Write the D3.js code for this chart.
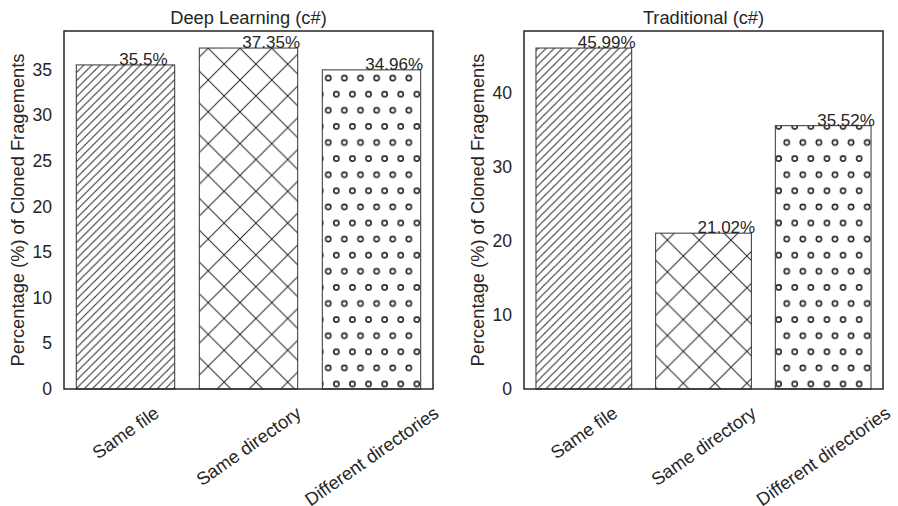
<!doctype html>
<html lang="en">
<head>
	<meta charset="UTF-8">
	<title>Clone locations (c#)</title>
	<script src="https://cdn.jsdelivr.net/npm/d3@7"></script>
	<style>
		body { margin: 0; background: #fff; }
		text { font-family: "Liberation Sans", Arial, sans-serif; fill: #262626; }
	</style>
</head>
<body>
	<script type="text/javascript">
		var w = 898, h = 506;

		// data
		var categories = ["Same file", "Same directory", "Different directories"];
		var deepValues = [35.5, 37.35, 34.96];
		var deepLabels = ["35.5%", "37.35%", "34.96%"];
		var tradValues = [45.99, 21.02, 35.52];
		var tradLabels = ["45.99%", "21.02%", "35.52%"];
		var deepTicks = [0, 5, 10, 15, 20, 25, 30, 35];
		var tradTicks = [0, 10, 20, 30, 40];
		var hatches = ["diag", "cross", "dots"];

		var svg = d3.select("body").append("svg")
			.attr("width", w)
			.attr("height", h);

		var defs = svg.append("defs");
		var ink = "#262626";

		function makePatterns(id, off) {
			// forward diagonal lines
			var d = 8.1;
			var p = defs.append("pattern")
				.attr("id", id + "-diag")
				.attr("patternUnits", "userSpaceOnUse")
				.attr("width", d).attr("height", d)
				.attr("x", off.diag).attr("y", 0);
			p.append("path")
				.attr("d", "M" + (-d) + "," + d + "L" + d + "," + (-d) +
					"M0," + (2 * d) + "L" + (2 * d) + ",0" +
					"M" + (-d) + "," + (2 * d) + "L" + (2 * d) + "," + (-d))
				.attr("stroke", ink).attr("stroke-width", 1).attr("fill", "none");

			// crossed diagonals
			var c = 31.8;
			p = defs.append("pattern")
				.attr("id", id + "-cross")
				.attr("patternUnits", "userSpaceOnUse")
				.attr("width", c).attr("height", c)
				.attr("x", off.cross[0]).attr("y", off.cross[1]);
			p.append("path")
				.attr("d", "M0,0L" + c + "," + c + "M0," + c + "L" + c + ",0")
				.attr("stroke", ink).attr("stroke-width", 1).attr("fill", "none");

			// small circles, alternating rows
			var s = 16.1;
			p = defs.append("pattern")
				.attr("id", id + "-dots")
				.attr("patternUnits", "userSpaceOnUse")
				.attr("width", s).attr("height", 2 * s)
				.attr("x", off.dots[0]).attr("y", off.dots[1]);
			[[0, 0], [s, 0], [0, 2 * s], [s, 2 * s], [s / 2, s]].forEach(function(q) {
				p.append("circle")
					.attr("cx", q[0]).attr("cy", q[1]).attr("r", 2.6)
					.attr("stroke", ink).attr("stroke-width", 1.6).attr("fill", "none");
			});
		}

		makePatterns("dl", { diag: 3.2, cross: [240, 80], dots: [328.3, 335.7] });
		makePatterns("tr", { diag: 3.2, cross: [683.3 - 15.9, 256 - 15.9], dots: [786.7, 335.7] });

		function panel(opt) {
			var g = svg.append("g");
			var x = d3.scaleBand()
				.domain(categories)
				.range([opt.left, opt.right])
				.paddingInner(0.2)
				.paddingOuter(0.1);
			var y = d3.scaleLinear()
				.domain([0, d3.max(opt.values) * 1.05])
				.range([389, 31]);

			// bars
			g.selectAll("rect.bar")
				.data(opt.values)
				.enter()
				.append("rect")
				.attr("class", "bar")
				.attr("x", function(d, i) { return x(categories[i]); })
				.attr("y", function(d) { return y(d); })
				.attr("width", x.bandwidth())
				.attr("height", function(d) { return y(0) - y(d); })
				.attr("fill", function(d, i) { return "url(#" + opt.id + "-" + hatches[i] + ")"; })
				.attr("stroke", "#333")
				.attr("stroke-width", 1);

			// value labels, left aligned a bit left of bar centre
			g.selectAll("text.val")
				.data(opt.values)
				.enter()
				.append("text")
				.attr("class", "val")
				.attr("x", function(d, i) { return x(categories[i]) + 0.35 * x.step(); })
				.attr("y", function(d) { return y(d); })
				.attr("font-size", "17px")
				.text(function(d, i) { return opt.labels[i]; });

			// y axis
			var yAxis = d3.axisLeft(y).tickValues(opt.ticks).tickSize(0).tickPadding(12);
			var ya = g.append("g")
				.attr("transform", "translate(" + opt.left + ",0)")
				.call(yAxis);
			ya.select(".domain").remove();
			ya.selectAll("text")
				.attr("font-size", "17.6px")
				.attr("font-family", "Liberation Sans, Arial, sans-serif")
				.attr("fill", "#262626");

			// x labels, rotated 35 degrees, box centred under the bar
			var ang = 35 * Math.PI / 180, fs = 18.3;
			g.selectAll("text.cat")
				.data(categories)
				.enter()
				.append("text")
				.attr("class", "cat")
				.attr("font-size", fs + "px")
				.attr("text-anchor", "middle")
				.attr("dominant-baseline", "central")
				.text(function(d) { return d; })
				.attr("transform", function(d) {
					var tw = this.getComputedTextLength();
					var bh = tw * Math.sin(ang) + fs * 1.15 * Math.cos(ang);
					var cx = x(d) + x.bandwidth() / 2;
					var cy = 402 + bh / 2;
					return "translate(" + cx + "," + cy + ") rotate(-35)";
				});

			// frame
			g.append("rect")
				.attr("x", opt.left)
				.attr("y", 31)
				.attr("width", opt.right - opt.left)
				.attr("height", 389 - 31)
				.attr("fill", "none")
				.attr("stroke", "#262626")
				.attr("stroke-width", 1.5);

			// titles
			g.append("text")
				.attr("x", (opt.left + opt.right) / 2)
				.attr("y", 23.5)
				.attr("text-anchor", "middle")
				.attr("font-size", "18.3px")
				.text(opt.title);

			g.append("text")
				.attr("transform", "translate(" + (opt.left - 40) + ",210) rotate(-90)")
				.attr("text-anchor", "middle")
				.attr("font-size", "18.3px")
				.text("Percentage (%) of Cloned Fragements");
		}

		panel({ id: "dl", left: 64, right: 433, values: deepValues, labels: deepLabels,
			ticks: deepTicks, title: "Deep Learning (c#)" });
		panel({ id: "tr", left: 524, right: 883, values: tradValues, labels: tradLabels,
			ticks: tradTicks, title: "Traditional (c#)" });
	</script>
</body>
</html>
